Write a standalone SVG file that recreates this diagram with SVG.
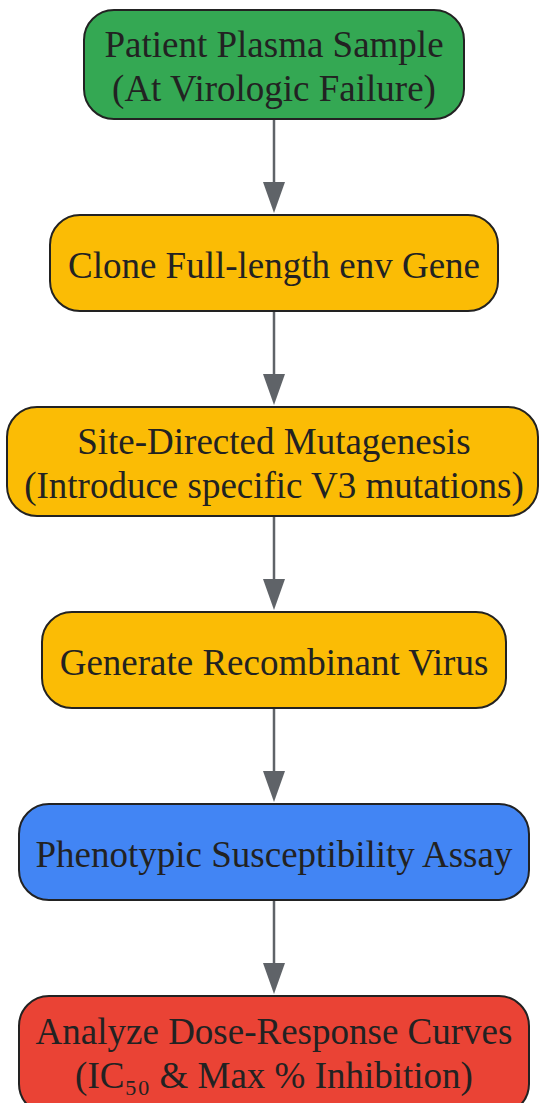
<svg xmlns="http://www.w3.org/2000/svg" width="539" height="1103" viewBox="0 0 539 1103">
<style>
.n{stroke:#222;stroke-width:2}
.t{font-family:"Liberation Serif","Times New Roman",serif;font-size:37px;fill:#222;text-anchor:middle}
.e{stroke:#5f6368;stroke-width:2.5;fill:none}
.h{fill:#5f6368}
</style>
<rect width="539" height="1103" fill="#fff"/>
<g id="edges">
<path class="e" d="M274,120 V182"/><path class="h" d="M263,182 L285,182 L274,213 z"/>
<path class="e" d="M274,312 V374"/><path class="h" d="M263,374 L285,374 L274,405 z"/>
<path class="e" d="M274,517 V579"/><path class="h" d="M263,579 L285,579 L274,610 z"/>
<path class="e" d="M274,709 V771"/><path class="h" d="M263,771 L285,771 L274,802 z"/>
<path class="e" d="M274,901 V963"/><path class="h" d="M263,963 L285,963 L274,994 z"/>
</g>
<g id="n1"><rect class="n" x="84" y="10" width="380" height="109" rx="30" fill="#34A853"/>
<text class="t" x="274" y="57">Patient Plasma Sample</text><text class="t" x="274" y="101">(At Virologic Failure)</text></g>
<g id="n2"><rect class="n" x="50" y="215" width="448" height="96" rx="30" fill="#FBBC05"/>
<text class="t" x="274" y="278">Clone Full-length env Gene</text></g>
<g id="n3"><rect class="n" x="7" y="407" width="531" height="109" rx="30" fill="#FBBC05"/>
<text class="t" x="274" y="454">Site-Directed Mutagenesis</text><text class="t" x="274" y="498">(Introduce specific V3 mutations)</text></g>
<g id="n4"><rect class="n" x="42" y="612" width="464" height="96" rx="30" fill="#FBBC05"/>
<text class="t" x="274" y="675">Generate Recombinant Virus</text></g>
<g id="n5"><rect class="n" x="19" y="804" width="510" height="96" rx="30" fill="#4285F4"/>
<text class="t" x="274" y="867">Phenotypic Susceptibility Assay</text></g>
<g id="n6"><rect class="n" x="19" y="996" width="510" height="118" rx="30" fill="#EA4335"/>
<text class="t" x="274" y="1044">Analyze Dose-Response Curves</text><text class="t" x="274" y="1088">(IC₅₀ &amp; Max % Inhibition)</text></g>
</svg>
